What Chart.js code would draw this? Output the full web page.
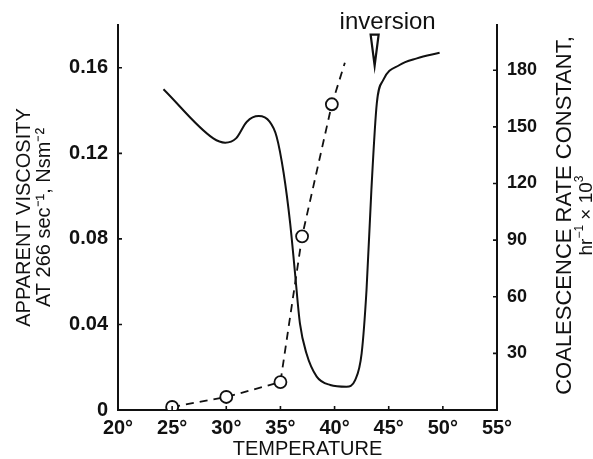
<!DOCTYPE html>
<html lang="en">
<head>
<meta charset="UTF-8">
<title>Viscosity and coalescence rate vs temperature</title>
<style>
  body { margin: 0; background: #fff; }
  canvas { display: block; }
</style>
<script src="https://cdn.jsdelivr.net/npm/chart.js"></script>
</head>
<body>
<canvas id="chart" width="593" height="459"></canvas>
<script>
  // apparent viscosity curve (left axis)
  const viscTemp  = [24.2, 28.8, 29.9, 30.9, 31.9, 33.0, 34.0, 34.65, 35.3, 35.9, 36.35, 36.8, 37.4, 38.35, 39.6, 41.1, 41.9, 42.5, 42.95, 43.4, 43.9, 44.5, 46.0, 47.6, 49.7];
  const viscValue = [0.150, 0.127, 0.125, 0.127, 0.1348, 0.1374, 0.1348, 0.1278, 0.1107, 0.0873, 0.0639, 0.0405, 0.0265, 0.0156, 0.0117, 0.0109, 0.0140, 0.0265, 0.0561, 0.1029, 0.1434, 0.1543, 0.1613, 0.1644, 0.1670];

  // coalescence rate constant (right axis); last point is the dashed run-out with no circle
  const coalTemp   = [25, 30, 35, 37, 39.75, 40.95];
  const coalValue  = [1.6, 6.9, 14.8, 92, 162, 184];
  const coalMarker = [true, true, true, true, true, false];

  const tempTicks = [20, 25, 30, 35, 40, 45, 50, 55];
  const viscTicks = [0, 0.04, 0.08, 0.12, 0.16];
  const coalTicks = [30, 60, 90, 120, 150, 180];

  const inversionTemp = 43.7;

  const ink = '#111';
  const family = '"Liberation Sans", Arial, Helvetica, sans-serif';

  // draws "hr-1 x 10^3" with raised exponents, centred on 0
  function drawSupLine(ctx, parts, size) {
    const big = size + 'px ' + family, small = Math.round(size * 0.65) + 'px ' + family;
    let w = 0;
    parts.forEach(p => { ctx.font = p[1] ? small : big; w += ctx.measureText(p[0]).width; });
    let cx = -w / 2;
    ctx.textAlign = 'left';
    parts.forEach(p => {
      ctx.font = p[1] ? small : big;
      ctx.fillText(p[0], cx, p[1] ? -size * 0.4 : 0);
      cx += ctx.measureText(p[0]).width;
    });
  }

  // small inward ticks, the inversion arrow and the right-hand title
  const decor = {
    id: 'decor',
    afterDraw(chart) {
      const ctx = chart.ctx;
      const { x, y, y1 } = chart.scales;
      ctx.save();
      ctx.strokeStyle = ink;
      ctx.fillStyle = ink;
      ctx.lineWidth = 1.6;
      ctx.beginPath();
      x.ticks.forEach(t => {
        const px = x.getPixelForValue(t.value);
        ctx.moveTo(px, x.top); ctx.lineTo(px, x.top - 4);
      });
      y.ticks.forEach(t => {
        if (t.value === 0) return;
        const py = y.getPixelForValue(t.value);
        ctx.moveTo(y.right, py); ctx.lineTo(y.right + 4, py);
      });
      y1.ticks.forEach(t => {
        const py = y1.getPixelForValue(t.value);
        ctx.moveTo(y1.left, py); ctx.lineTo(y1.left - 4, py);
      });
      ctx.stroke();

      // inversion marker
      const ax = x.getPixelForValue(inversionTemp);
      const tip = y.getPixelForValue(0.161);
      const top = y.getPixelForValue(0.1755);
      ctx.lineWidth = 2.2;
      ctx.beginPath();
      ctx.moveTo(ax - 4, top);
      ctx.lineTo(ax + 4, top);
      ctx.lineTo(ax, tip);
      ctx.closePath();
      ctx.stroke();

      ctx.font = '24px ' + family;
      ctx.textAlign = 'center';
      ctx.textBaseline = 'alphabetic';
      ctx.fillText('inversion', x.getPixelForValue(44.9), 29);

      // right axis title, reading bottom to top
      ctx.translate(565, (y1.top + y1.bottom) / 2 - 2);
      ctx.rotate(-Math.PI / 2);
      ctx.textBaseline = 'middle';
      ctx.font = '22px ' + family;
      ctx.fillText('COALESCENCE RATE CONSTANT,', 0, 0);
      ctx.translate(0, 22);
      drawSupLine(ctx, [['hr', false], ['\u22121', true], [' \u00D7 10', false], ['3', true]], 19);
      ctx.restore();
    }
  };

  new Chart(document.getElementById('chart'), {
    type: 'line',
    data: {
      datasets: [
        {
          label: 'Apparent viscosity',
          data: viscTemp.map((t, i) => ({ x: t, y: viscValue[i] })),
          yAxisID: 'y',
          borderColor: ink,
          borderWidth: 2,
          pointRadius: 0,
          cubicInterpolationMode: 'monotone',
          fill: false
        },
        {
          label: 'Coalescence rate constant',
          data: coalTemp.map((t, i) => ({ x: t, y: coalValue[i] })),
          yAxisID: 'y1',
          borderColor: ink,
          borderWidth: 1.8,
          borderDash: [8, 6],
          tension: 0,
          pointRadius: coalMarker.map(m => m ? 6 : 0),
          pointBackgroundColor: '#fff',
          pointBorderColor: ink,
          pointBorderWidth: 1.8,
          fill: false
        }
      ]
    },
    options: {
      responsive: false,
      animation: false,
      layout: { padding: { top: 25, left: 0, right: 0, bottom: 0 } },
      plugins: { legend: { display: false }, tooltip: { enabled: false } },
      scales: {
        x: {
          type: 'linear',
          min: 20, max: 55,
          afterBuildTicks: s => { s.ticks = tempTicks.map(v => ({ value: v })); },
          afterFit: s => { s.height = 49; },
          grid: { display: false, drawTicks: false },
          border: { display: true, color: ink, width: 2 },
          ticks: {
            color: ink, padding: 6,
            font: { family, size: 20, weight: 'bold' },
            callback: v => v + '\u00B0'
          },
          title: {
            display: true, text: 'TEMPERATURE', color: ink,
            font: { family, size: 20, lineHeight: 1 },
            padding: { top: 0, bottom: 0 }
          }
        },
        y: {
          position: 'left',
          min: 0, max: 0.18,
          afterBuildTicks: s => { s.ticks = viscTicks.map(v => ({ value: v })); },
          afterFit: s => { s.width = 118; },
          grid: { display: false, drawTicks: false },
          border: { display: true, color: ink, width: 2 },
          ticks: {
            color: ink, padding: 10,
            font: { family, size: 20, weight: 'bold' },
            callback: v => v === 0 ? '0' : v.toFixed(2)
          },
          title: {
            display: true,
            text: ['APPARENT VISCOSITY', 'AT 266 sec\u207B\u00B9, Nsm\u207B\u00B2'],
            color: ink,
            font: { family, size: 20, lineHeight: 1 },
            padding: { top: 14, bottom: 0 }
          }
        },
        y1: {
          position: 'right',
          min: 0, max: 204,
          afterBuildTicks: s => { s.ticks = coalTicks.map(v => ({ value: v })); },
          afterFit: s => { s.width = 96; },
          grid: { display: false, drawTicks: false },
          border: { display: true, color: ink, width: 2 },
          ticks: {
            color: ink, padding: 10,
            font: { family, size: 18, weight: 'bold' },
            callback: v => String(v)
          }
        }
      }
    },
    plugins: [decor]
  });
</script>
</body>
</html>
